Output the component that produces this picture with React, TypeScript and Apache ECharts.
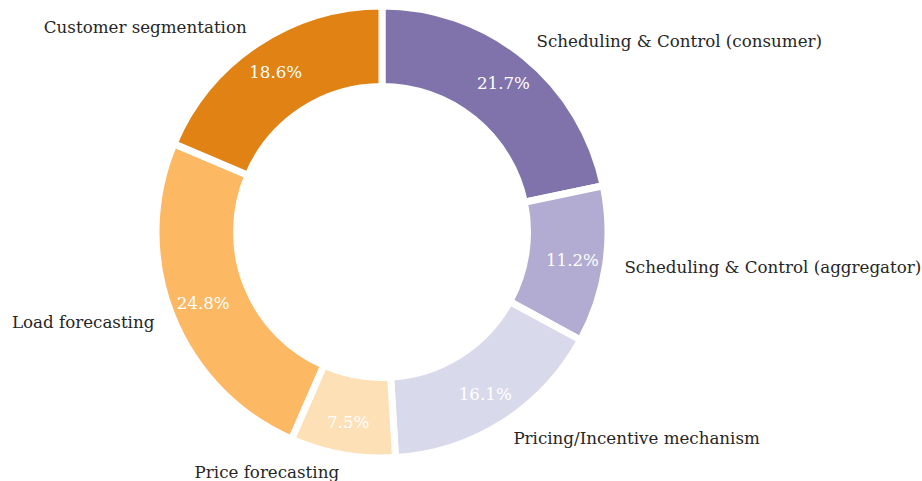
import React, { useEffect, useRef } from "react";
import * as echarts from "echarts";

const categories = [
  "Scheduling & Control (consumer)",
  "Scheduling & Control (aggregator)",
  "Pricing/Incentive mechanism",
  "Price forecasting",
  "Load forecasting",
  "Customer segmentation",
];
const shares = [21.7, 11.2, 16.1, 7.5, 24.8, 18.6];
const colors = ["#8073ac", "#b2abd2", "#d8daeb", "#fee0b6", "#fdb863", "#e08214"];

const FONT = "'DejaVu Serif', serif";
const CENTER = [382, 232];
const LABEL_CENTER = [382, 231];

export default function App() {
  const ref = useRef<HTMLDivElement>(null);
  useEffect(() => {
    if (!ref.current) return;
    const chart = echarts.init(ref.current, null, { renderer: "svg" });
    const ringData = categories.map((name, i) => ({
      name,
      value: shares[i],
      itemStyle: { color: colors[i] },
    }));
    const ghostData = categories.map((name, i) => ({ name, value: shares[i] }));
    chart.setOption({
      animation: false,
      backgroundColor: "#ffffff",
      series: [
        {
          type: "pie",
          center: CENTER,
          radius: [145.5, 226],
          startAngle: 90,
          clockwise: true,
          silent: true,
          avoidLabelOverlap: false,
          label: { show: false },
          labelLine: { show: false },
          itemStyle: { borderColor: "#ffffff", borderWidth: 7 },
          emphasis: { disabled: true },
          data: ringData,
        },
        {
          type: "pie",
          center: CENTER,
          radius: [153, 226],
          startAngle: 90,
          clockwise: true,
          silent: true,
          avoidLabelOverlap: false,
          itemStyle: { color: "rgba(0,0,0,0)" },
          label: {
            show: true,
            position: "inside",
            color: "#ffffff",
            fontFamily: FONT,
            fontSize: 16.7,
            formatter: (p: any) => p.value.toFixed(1) + "%",
          },
          labelLine: { show: false },
          emphasis: { disabled: true },
          data: ghostData,
        },
        {
          type: "pie",
          center: LABEL_CENTER,
          radius: [244, 245],
          startAngle: 90,
          clockwise: true,
          silent: true,
          avoidLabelOverlap: false,
          itemStyle: { color: "rgba(0,0,0,0)" },
          label: {
            show: true,
            position: "outside",
            alignTo: "none",
            distanceToLabelLine: 0,
            color: "#262626",
            fontFamily: FONT,
            fontSize: 16.7,
            formatter: "{b}",
          },
          labelLine: { show: false, length: 0, length2: 0 },
          emphasis: { disabled: true },
          data: ghostData,
        },
      ],
    });
    return () => chart.dispose();
  }, []);
  return (
    <div
      ref={ref}
      style={{ position: "fixed", left: 0, top: 0, width: 922, height: 481 }}
    />
  );
}
